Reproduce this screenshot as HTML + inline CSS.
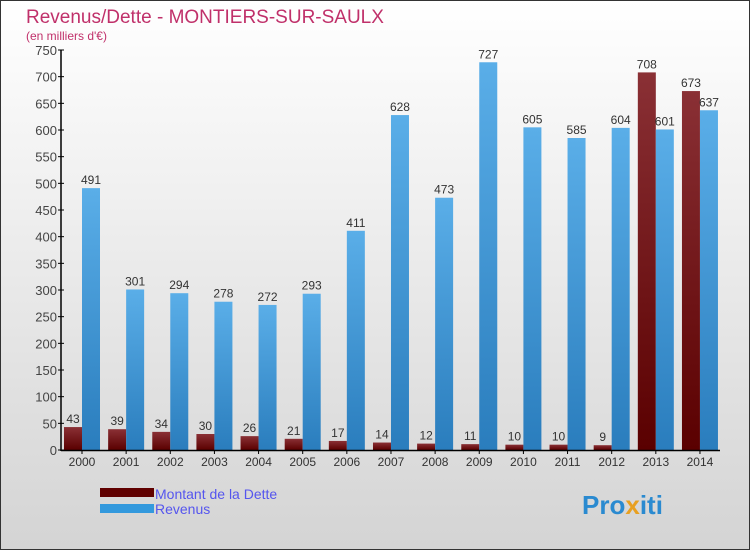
<!DOCTYPE html>
<html><head><meta charset="utf-8"><style>
body{margin:0}
#c{width:750px;height:550px;position:relative;overflow:hidden;font-family:"Liberation Sans",sans-serif;}
</style></head><body>
<div id="c">
<svg width="750" height="550" id="svg">
<defs>
<linearGradient id="bg" x1="0" y1="0" x2="0" y2="1"><stop offset="0" stop-color="#ffffff"/><stop offset="1" stop-color="#d4d4d4"/></linearGradient>
<linearGradient id="gd" x1="0" y1="0" x2="0" y2="1"><stop offset="0" stop-color="#8a3035"/><stop offset="1" stop-color="#5a0000"/></linearGradient>
<linearGradient id="gr" x1="0" y1="0" x2="0" y2="1"><stop offset="0" stop-color="#5aaee8"/><stop offset="1" stop-color="#2a7dbd"/></linearGradient>
</defs>
<rect x="0.5" y="0.5" width="749" height="549" fill="url(#bg)" stroke="#333"/>
<text x="26" y="23" font-size="19" fill="#c0306a">Revenus/Dette - MONTIERS-SUR-SAULX</text>
<text x="26" y="40" font-size="12" fill="#c0306a">(en milliers d'€)</text>
<g id="plot"></g>
<rect x="100" y="488" width="54" height="9" fill="#600000"/>
<rect x="100" y="504" width="54" height="9" fill="#3399dd"/>
<text x="155" y="499" font-size="14" fill="#5555ee">Montant de la Dette</text>
<text x="155" y="514" font-size="14" fill="#5555ee">Revenus</text>
<text x="582" y="514" font-size="26" font-weight="bold" fill="#2a8ad0">Pro<tspan fill="#e8a020">x</tspan>iti</text>
</svg>
</div>
<script>
const years=["2000","2001","2002","2003","2004","2005","2006","2007","2008","2009","2010","2011","2012","2013","2014"];
const dette=[43,39,34,30,26,21,17,14,12,11,10,10,9,708,673];
const revenus=[491,301,294,278,272,293,411,628,473,727,605,585,604,601,637];
const ticks=[0,50,100,150,200,250,300,350,400,450,500,550,600,650,700,750];
const NS="http://www.w3.org/2000/svg";
const g=document.getElementById("plot");
const y=v=>450-v*400/750;
const xg=i=>64+i*44.14;
function el(t,a,txt){const e=document.createElementNS(NS,t);for(const k in a)e.setAttribute(k,a[k]);if(txt!==undefined)e.textContent=txt;g.appendChild(e);return e;}
ticks.forEach(t=>{
 const l=el("line",{x1:58,x2:64,y1:y(t),y2:y(t),stroke:"#000"});
 
 
 const tx=el("text",{x:57,y:y(t)+5,"font-size":13,fill:"#444","text-anchor":"end"},t);
 
 
});
years.forEach((yr,i)=>{
 const x=xg(i);
 const d=el("rect",{x:x,y:y(dette[i]),width:18,height:450-y(dette[i]),fill:"url(#gd)"});
 
 
 const r=el("rect",{x:x+18,y:y(revenus[i]),width:18,height:450-y(revenus[i]),fill:"url(#gr)"});
 
 
 const dl=el("text",{x:x+9,y:y(dette[i])-4,"font-size":12,fill:"#333","text-anchor":"middle"},dette[i]);
 
 
 const rl=el("text",{x:x+27,y:y(revenus[i])-4,"font-size":12,fill:"#333","text-anchor":"middle"},revenus[i]);
 
 
 const xl=el("text",{x:x+18,y:466,"font-size":12,fill:"#333","text-anchor":"middle"},yr);
 
 
 const xt=el("line",{x1:x+18,x2:x+18,y1:450,y2:454,stroke:"#000"});
 
 
});
const ya=el("line",{x1:61,x2:61,y1:50,y2:451,stroke:"#000","stroke-width":1.5});


const xa=el("line",{x1:61,x2:720,y1:450.5,y2:450.5,stroke:"#000","stroke-width":1.5});


</script>
</body></html>
